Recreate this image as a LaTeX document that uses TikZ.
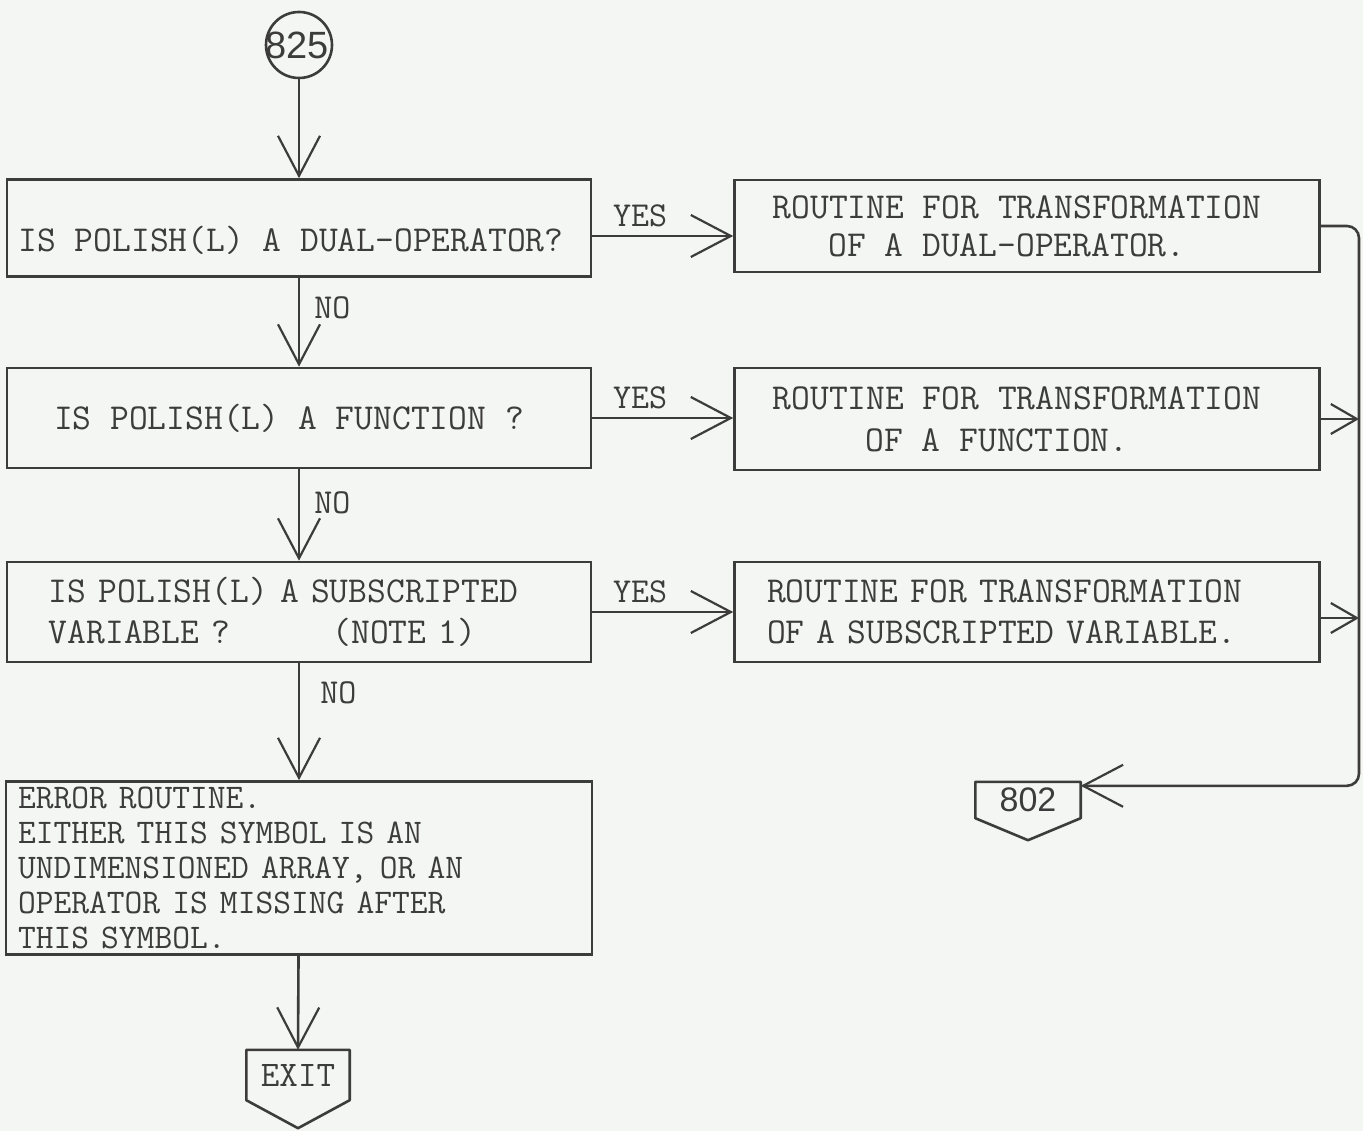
\documentclass[tikz,border=0pt]{standalone}
\usepackage{fontspec}
\newfontfamily\handfont{Liberation Sans}
\usetikzlibrary{arrows.meta,calc}
\definecolor{paper}{RGB}{244,246,243}
\definecolor{ink}{RGB}{60,60,60}
\begin{document}
\begin{tikzpicture}[x=1pt,y=-1pt,
  ln/.style={draw=ink, line width=2.6pt},
  box/.style={ln, rectangle, inner sep=0pt, font=\ttfamily\fontsize{36.5}{38}\selectfont, text=ink},
  flow/.style={ln, -{Straight Barb[length=40pt,width=42pt,line width=2.2pt]}},
  shortflow/.style={ln, -{Straight Barb[length=26pt,width=30pt,line width=2.2pt]}},
  lab/.style={font=\ttfamily\fontsize{35}{36}\selectfont, text=ink, inner sep=2pt},
]
\fill[paper] (0,0) rectangle (1363,1131);
\useasboundingbox (0,0) rectangle (1363,1131);

% start connector
\node[ln, circle, minimum size=66pt, inner sep=0pt, font=\handfont\fontsize{38}{38}\selectfont, text=ink] (c825) at (299,45) {\makebox[0pt]{\hspace*{-4pt}825}};

% decision boxes
\node[box, minimum width=584pt, minimum height=97pt] (q1) at (299,228)
  {\raisebox{-11pt}[0pt][0pt]{\makebox[0pt]{\hspace*{-16pt}\raisebox{-0.35em}{IS POLISH(L) A DUAL-OPERATOR?}}}};
\node[box, minimum width=584pt, minimum height=100pt] (q2) at (299,418)
  {\hspace*{-20pt}IS POLISH(L) A FUNCTION ?};
\node[box, minimum width=584pt, minimum height=100pt, text width=540pt, align=left] (q3) at (299,612)
  {\hspace*{20pt}IS POLISH(L) A SUBSCRIPTED\\[3pt]\hspace*{20pt}VARIABLE ?\hspace{2.8em}(NOTE 1)};
\node[box, minimum width=586pt, minimum height=173pt, text width=562pt, align=left] (q4) at (299,868)
  {\fontsize{34.5}{35}\selectfont ERROR ROUTINE.\\EITHER THIS SYMBOL IS AN\\UNDIMENSIONED ARRAY, OR AN\\OPERATOR IS MISSING AFTER\\THIS SYMBOL.\\[6pt]};

% routine boxes
\node[box, minimum width=585pt, minimum height=92pt, align=center] (r1) at (1027,226)
  {\hspace*{-20pt}ROUTINE FOR TRANSFORMATION\\[0pt]\hspace*{-40pt}OF A DUAL-OPERATOR.};
\node[box, minimum width=585pt, minimum height=102pt, align=center] (r2) at (1027,419)
  {\hspace*{-20pt}ROUTINE FOR TRANSFORMATION\\[4pt]\hspace*{-60pt}OF A FUNCTION.};
\node[box, minimum width=585pt, minimum height=100pt, text width=520pt, align=left] (r3) at (1027,612)
  {ROUTINE FOR TRANSFORMATION\\[3pt]OF A SUBSCRIPTED VARIABLE.};

% off-page connector 802 and exit
\node[rectangle, inner sep=0pt, minimum width=105pt, minimum height=36pt, font=\handfont\fontsize{34}{34}\selectfont, text=ink] (n802) at (1028,800) {802};
\draw[ln, line join=round] (n802.north west) -- (n802.north east) -- (n802.south east) -- ($(n802.south)+(0,22)$) -- (n802.south west) -- cycle;
\node[rectangle, inner sep=0pt, minimum width=103pt, minimum height=50pt, font=\ttfamily\fontsize{36}{36}\selectfont, text=ink] (exit) at (298,1075) {EXIT};
\draw[ln, line join=round] (exit.north west) -- (exit.north east) -- (exit.south east) -- ($(exit.south)+(0,28)$) -- (exit.south west) -- cycle;

% main flow
\draw[flow] (c825) -- (q1);
\draw[flow] (q1) -- node[lab, right, pos=0.34, xshift=12pt]{NO} (q2);
\draw[flow] (q2) -- node[lab, right, pos=0.37, xshift=12pt]{NO} (q3);
\draw[flow] (q3) -- node[lab, right, pos=0.25, xshift=18pt]{NO} (q4);
\draw[flow] (q4) -- (exit.north);

% yes branches
\draw[flow] ($(q1.east)+(0,8)$) -- node[lab, above, pos=0.34, yshift=6pt]{YES} ($(q1.east -| r1.west)+(0,8)$);
\draw[flow] (q2.east) -- node[lab, above, pos=0.34, yshift=6pt]{YES} (q2.east -| r2.west);
\draw[flow] (q3.east) -- node[lab, above, pos=0.34, yshift=6pt]{YES} (q3.east -| r3.west);

% return bus
\coordinate (bus) at (1359,0);
\coordinate (in802) at ($(n802.north east)+(0,4)$);
\draw[flow, rounded corners=12pt] (r1.east) -- (r1.east -| bus) -- (bus |- in802) -- (in802);
\draw[shortflow] (r2.east) -- (r2.east -| bus);
\draw[shortflow] ($(r3.east)+(0,6)$) -- ($(r3.east -| bus)+(0,6)$);
\end{tikzpicture}
\end{document}
